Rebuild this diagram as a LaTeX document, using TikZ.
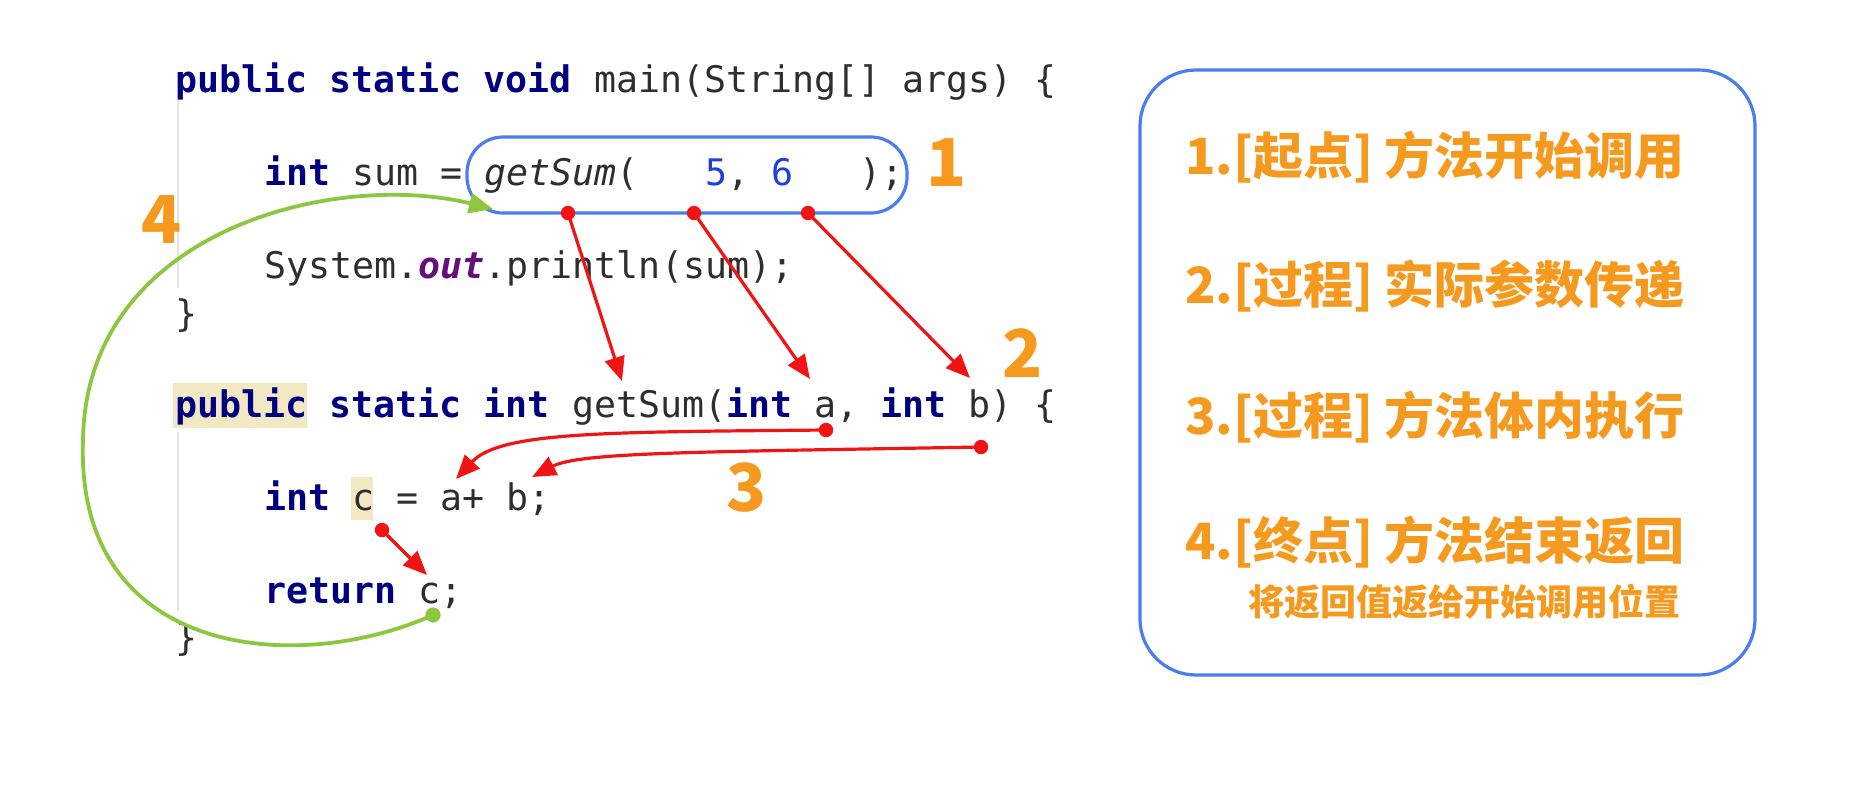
\documentclass[tikz,border=0pt]{standalone}
\usepackage{fontspec}
\usepackage{xcolor}
\newfontfamily\codefont{DejaVu Sans Mono}
\newfontfamily\cjk{Noto Sans CJK SC}
\definecolor{kwc}{HTML}{000080}
\definecolor{txt}{HTML}{2E2E2E}
\definecolor{numc}{HTML}{1F3FD8}
\definecolor{outc}{HTML}{660E7A}
\definecolor{hlc}{HTML}{F2E8C4}
\definecolor{boxc}{HTML}{4A7DF0}
\definecolor{orn}{HTML}{F69A1F}
\definecolor{redc}{HTML}{F01414}
\definecolor{grn}{HTML}{8DC63F}
\definecolor{guidec}{HTML}{E4E4E4}
\usetikzlibrary{arrows.meta}
\newcommand\kw[1]{{\bfseries\color{kwc}#1}}
\newcommand\nm[1]{{\color{numc}#1}}
\tikzset{
  code/.style={anchor=base west,inner sep=0pt,font=\codefont\fontsize{18.3}{22}\selectfont,text=txt},
  callbox/.style={draw=boxc,line width=1.6pt,rounded corners=18pt,minimum width=220pt,minimum height=38pt},
  panel/.style={draw=boxc,line width=1.6pt,rounded corners=28pt,minimum width=307.5pt,minimum height=302.5pt},
  num/.style={font=\cjk\bfseries\fontsize{33}{36}\selectfont,text=orn,inner sep=0pt},
  note/.style={font=\cjk\bfseries\fontsize{25}{30}\selectfont,text=orn,inner sep=0pt},
  redarr/.style={-{Triangle[length=12pt,width=10pt]},draw=redc,line width=1.6pt},
  grnarr/.style={-{Triangle[length=12pt,width=10pt]},draw=grn,line width=1.9pt},
  guide/.style={draw=guidec,line width=0.6pt},
}

\begin{document}
\begin{tikzpicture}[x=0.5pt,y=-0.5pt]
\useasboundingbox[fill=white] (0,0) rectangle (1868,788);
% editor guides and highlights
\draw[guide] (178,100) -- (178,288);
\draw[guide] (178,432) -- (178,611);
\fill[hlc] (173,383) rectangle (307,428);
\fill[hlc] (351,477) rectangle (373,520);
% code
\node[code] (main) at (175,92) {\kw{public} \kw{static} \kw{void} main(String[] args) \{};
\node[code] (sum) at (264,185) {\kw{int} sum = \textit{getSum}(~~~\nm{5},~\nm{6}~~~);};
\node[code] (prt) at (264,278) {System.{\bfseries\itshape\color{outc}out}.println(sum);};
\node[code] (end1) at (175,326) {\}};
\node[code] (sig) at (175,417) {\kw{public} \kw{static} \kw{int} getSum(\kw{int} a, \kw{int} b) \{};
\node[code] (add) at (264,510) {\kw{int} c = a+ b;};
\node[code] (ret) at (264,603) {\kw{return} c;};
\node[code] (end2) at (175,650) {\}};
\node[callbox] (call) at (687,175) {};
% step numbers
\node[num] (n1) at (947,163) {1};
\node[num] (n2) at (1023,353) {2};
\node[num] (n3) at (747,488) {3};
\node[num] (n4) at (162,220) {4};
% connectors
\coordinate (p1) at (568,213); \coordinate (q1) at (622,381);
\coordinate (p2) at (694,213); \coordinate (q2) at (810,379);
\coordinate (p3) at (808,213); \coordinate (q3) at (970,378);
\coordinate (pa) at (826,430); \coordinate (qa) at (456,479);
\coordinate (pb) at (981,447); \coordinate (qb) at (532,477);
\coordinate (pc) at (382,530); \coordinate (qc) at (427,575);
\coordinate (pr) at (433,615); \coordinate (qr) at (493,209);
\foreach \s/\t in {p1/q1,p2/q2,p3/q3,pc/qc}{
  \draw[redarr] (\s) -- (\t);
}
\draw[redarr] (pa) .. controls (600,432) and (500,432) .. (qa);
\draw[redarr] (pb) .. controls (700,452) and (580,452) .. (qb);
\foreach \s in {p1,p2,p3,pa,pb,pc}{ \fill[redc] (\s) circle (3.6pt); }
\coordinate (lft) at (83,440);
\draw[grnarr] (pr) .. controls (300,675) and (75,660) .. (lft) .. controls (86,230) and (335,170) .. (qr);
\fill[grn] (pr) circle (3.8pt);
% summary panel
\node[panel] (panel) at (1447.5,372.5) {};
\foreach \i/\y/\t in {1/157/{1.[起点] 方法开始调用},2/286/{2.[过程] 实际参数传递},3/417/{3.[过程] 方法体内执行},4/542/{4.[终点] 方法结束返回}}{
  \node[note,anchor=west] (s\i) at (1185,\y) {\t};
}
\node[note,anchor=east,font=\cjk\bfseries\fontsize{18}{20}\selectfont] (s5) at (1681,602) {将返回值返给开始调用位置};
\end{tikzpicture}
\end{document}
